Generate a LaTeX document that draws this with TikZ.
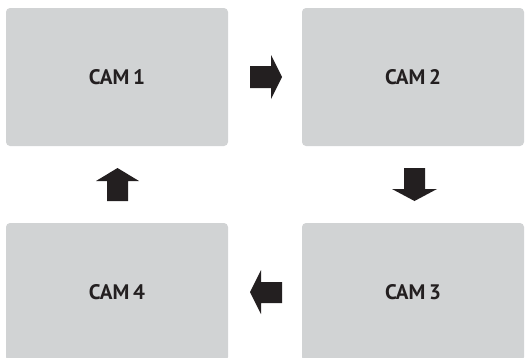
\documentclass[tikz,border=0pt]{standalone}
\usepackage{fontspec}
\setmainfont{PT Sans}
\definecolor{boxgray}{HTML}{D1D3D4}
\definecolor{ink}{HTML}{231F20}
\newcommand\camfont{\bfseries\fontsize{21}{24}\selectfont\spaceskip=0.18em plus 0em\relax}
\begin{document}
\begin{tikzpicture}[x=1pt,y=-1pt,
  cam/.style={fill=boxgray,rounded corners=4pt,minimum width=222pt,minimum height=138pt,inner sep=0pt,
    font=\camfont,text=ink},
  blockarrow/.style={fill=ink,draw=none}]
\useasboundingbox (0,0) rectangle (525,357);
\clip (0,0) rectangle (525,357);
\node[cam] (c1) at (117,77) {CAM 1};
\node[cam] (c2) at (413,77) {CAM 2};
\node[cam] (c3) at (413,292) {CAM 3};
\node[cam] (c4) at (117,292) {CAM 4};
% right arrow (CAM1 -> CAM2)
\fill[blockarrow] (250,66) -- (271,66) -- (271,55) -- (282,77) -- (271,99) -- (271,88) -- (250,88) -- cycle;
% down arrow (CAM2 -> CAM3)
\fill[blockarrow] (404,168) -- (425,168) -- (425,189) -- (437,189) -- (414.5,201) -- (392,189) -- (404,189) -- cycle;
% left arrow (CAM3 -> CAM4)
\fill[blockarrow] (282,282) -- (261,282) -- (261,270) -- (250,292) -- (261,314) -- (261,303) -- (282,303) -- cycle;
% up arrow (CAM4 -> CAM1)
\fill[blockarrow] (107,201) -- (128,201) -- (128,181) -- (139,181) -- (117.5,168) -- (96,181) -- (107,181) -- cycle;
\end{tikzpicture}
\end{document}
